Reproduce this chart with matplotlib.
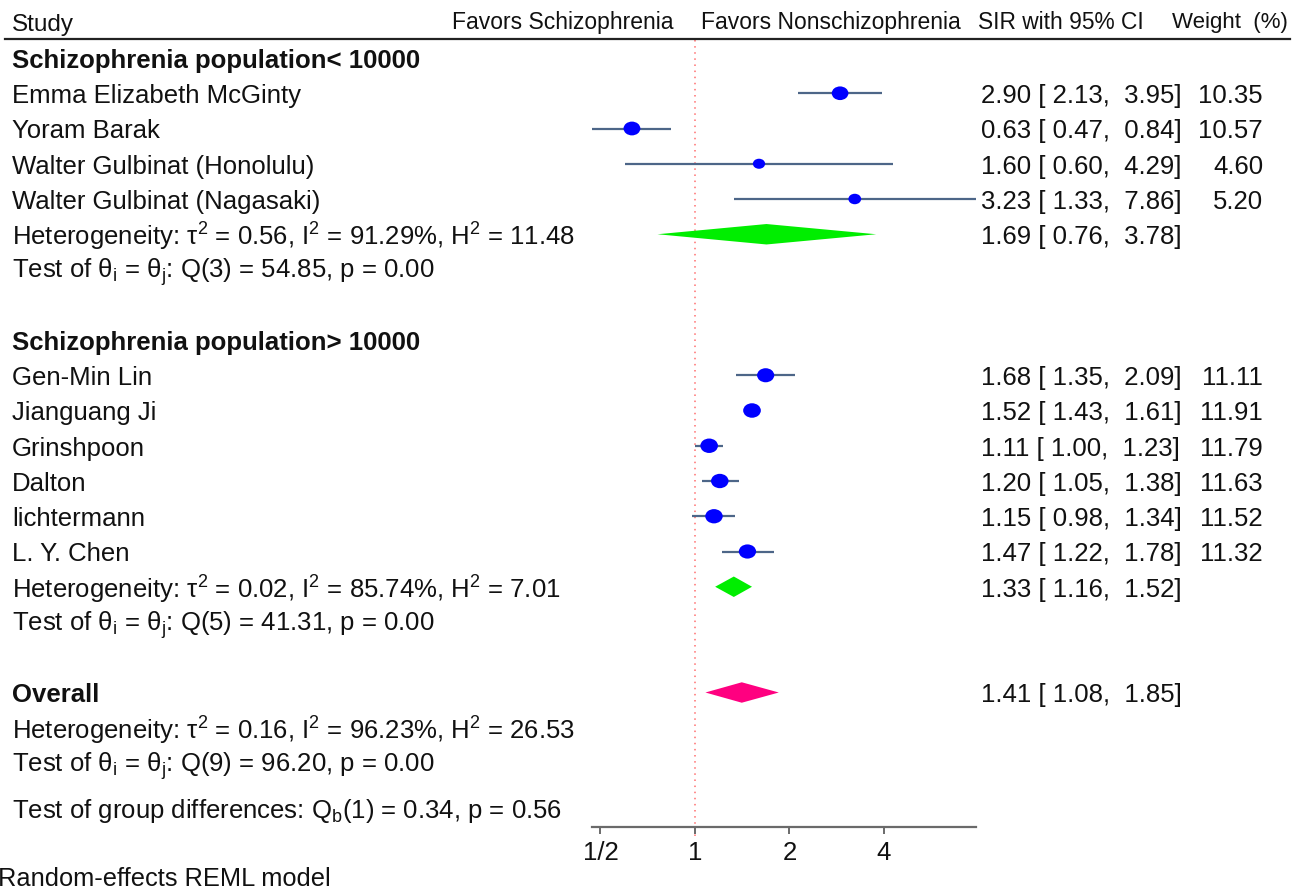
import numpy as np
import matplotlib
matplotlib.use("Agg")
from matplotlib import pyplot as plt
from matplotlib import transforms
from matplotlib.path import Path
from matplotlib.ticker import FixedLocator, NullLocator

plt.rcParams['font.family'] = ['Liberation Sans', 'DejaVu Sans']
plt.rcParams['mathtext.default'] = 'regular'

# ---- data ----
group1Studies = ["Emma Elizabeth McGinty", "Yoram Barak", "Walter Gulbinat (Honolulu)", "Walter Gulbinat (Nagasaki)"]
group1Sir = [2.90, 0.63, 1.60, 3.23]
group1Lower = [2.13, 0.47, 0.60, 1.33]
group1Upper = [3.95, 0.84, 4.29, 7.86]
group1Weight = [10.35, 10.57, 4.60, 5.20]
group1Pooled = (1.69, 0.76, 3.78)

group2Studies = ["Gen-Min Lin", "Jianguang Ji", "Grinshpoon", "Dalton", "lichtermann", "L. Y. Chen"]
group2Sir = [1.68, 1.52, 1.11, 1.20, 1.15, 1.47]
group2Lower = [1.35, 1.43, 1.00, 1.05, 0.98, 1.22]
group2Upper = [2.09, 1.61, 1.23, 1.38, 1.34, 1.78]
group2Weight = [11.11, 11.91, 11.79, 11.63, 11.52, 11.32]
group2Pooled = (1.33, 1.16, 1.52)

overallPooled = (1.41, 1.08, 1.85)

tickValues = [0.5, 1, 2, 4]
tickLabels = ["1/2", "1", "2", "4"]

group1Title = "Schizophrenia population< 10000"
group2Title = "Schizophrenia population> 10000"
group1Het = "Heterogeneity: τ$^2$ = 0.56, I$^2$ = 91.29%, H$^2$ = 11.48"
group1Test = "Test of θ$_i$ = θ$_j$: Q(3) = 54.85, p = 0.00"
group2Het = "Heterogeneity: τ$^2$ = 0.02, I$^2$ = 85.74%, H$^2$ = 7.01"
group2Test = "Test of θ$_i$ = θ$_j$: Q(5) = 41.31, p = 0.00"
overallHet = "Heterogeneity: τ$^2$ = 0.16, I$^2$ = 96.23%, H$^2$ = 26.53"
overallTest = "Test of θ$_i$ = θ$_j$: Q(9) = 96.20, p = 0.00"
groupDiff = "Test of group differences: Q$_b$(1) = 0.34, p = 0.56"

W, H = 1302, 892
fig = plt.figure(figsize=(W / 100, H / 100), dpi=100)
fig.patch.set_facecolor("white")

allLower = group1Lower + group2Lower
allUpper = group1Upper + group2Upper
ax = fig.add_axes([592 / W, 0, 384 / W, 1])
ax.set_xscale("log", base=2)
ax.set_xlim(min(allLower), max(allUpper))
# row i sits at pixel 58 + 35.25*(i-1)
ax.set_ylim(1 + (H - 58) / 35.25, 1 - 58 / 35.25)
ax.patch.set_alpha(0)

for side in ("top", "left", "right"):
	ax.spines[side].set_visible(False)
axisRow = 22.82
ax.spines["bottom"].set_position(("data", axisRow))
ax.spines["bottom"].set_bounds(min(allLower), max(allUpper))
ax.spines["bottom"].set_color("#6a6a6a")
ax.spines["bottom"].set_linewidth(1.6)
ax.xaxis.set_major_locator(FixedLocator(tickValues))
ax.xaxis.set_minor_locator(NullLocator())
ax.set_xticklabels(tickLabels)
ax.tick_params(axis="x", direction="out", length=5, width=1.4, color="#6a6a6a",
			   labelsize=18.5, pad=5, labelcolor="#111111")
ax.set_yticks([])

# line of no effect
ax.plot([1, 1], [0.5, 23.1], ls=(0, (1, 3)), color="#ff6f6f", lw=1.1, clip_on=False, zorder=1)

# elliptical marker, a bit wider than tall like the original
circ = Path.unit_circle()
ellipse = Path(circ.vertices * np.array([1.0, 0.82]), circ.codes)

ciColor = "#4d6688"
dotColor = "#0000ff"

def drawStudies(rows, sir, lower, upper, weight):
	ax.hlines(rows, lower, upper, color=ciColor, lw=1.6, zorder=2)
	ax.scatter(sir, rows, s=25 + np.array(weight) * 11.5, marker=ellipse, color=dotColor,
			   edgecolors="none", zorder=3)

def drawDiamond(row, pooled, color):
	es, lo, hi = pooled
	half = 0.29
	ax.fill([lo, es, hi, es], [row, row - half, row, row + half], color=color, lw=0, zorder=3)

rows1 = [2, 3, 4, 5]
rows2 = [10, 11, 12, 13, 14, 15]
drawStudies(rows1, group1Sir, group1Lower, group1Upper, group1Weight)
drawStudies(rows2, group2Sir, group2Lower, group2Upper, group2Weight)
drawDiamond(6, group1Pooled, "#00ee00")
drawDiamond(16, group2Pooled, "#00ee00")
drawDiamond(19, overallPooled, "#ff0080")

# text columns: x in figure fraction, y in row units
tr = transforms.blended_transform_factory(fig.transFigure, ax.transData)
fs = 18.5
txtColor = "#111111"
dy = 0.08

def leftText(row, s, bold=False, x=12, size=fs, va="center"):
	fig.text(x / W, row + dy, s, transform=tr, ha="left", va=va, fontsize=size,
			 fontweight="bold" if bold else "normal", color=txtColor)

def fmtCi(es, lo, hi):
	return f"{es:.2f} [{lo:5.2f}, {hi:5.2f}]"

def rightCols(row, es, lo, hi, w=None):
	fig.text(981 / W, row + dy, fmtCi(es, lo, hi), transform=tr, ha="left", va="center",
			 fontsize=fs, color=txtColor)
	if w is not None:
		fig.text(1263 / W, row + dy, f"{w:.2f}", transform=tr, ha="right", va="center",
				 fontsize=fs, color=txtColor)

# header
hs = 16.5
leftText(-0.03, "Study", size=17.5)
fig.text(673 / W, 0, "Favors Schizophrenia", transform=tr, ha="right", va="center", fontsize=hs, color=txtColor)
fig.text(701 / W, 0, "Favors Nonschizophrenia", transform=tr, ha="left", va="center", fontsize=hs, color=txtColor)
fig.text(978 / W, 0, "SIR with 95% CI", transform=tr, ha="left", va="center", fontsize=16.4, color=txtColor)
fig.text(1288 / W, 0, "Weight  (%)", transform=tr, ha="right", va="center", fontsize=16, color=txtColor)
ax.plot([5 / W, 1290 / W], [0.47, 0.47], transform=tr, color="#222222", lw=1.6, clip_on=False)

leftText(1, group1Title, bold=True)
for r, name, es, lo, hi, w in zip(rows1, group1Studies, group1Sir, group1Lower, group1Upper, group1Weight):
	leftText(r, name)
	rightCols(r, es, lo, hi, w)
leftText(6, group1Het)
rightCols(6, *group1Pooled)
leftText(7, group1Test)

leftText(9, group2Title, bold=True)
for r, name, es, lo, hi, w in zip(rows2, group2Studies, group2Sir, group2Lower, group2Upper, group2Weight):
	leftText(r, name)
	rightCols(r, es, lo, hi, w)
leftText(16, group2Het)
rightCols(16, *group2Pooled)
leftText(17, group2Test)

leftText(19, "Overall", bold=True)
rightCols(19, *overallPooled)
leftText(20, overallHet)
leftText(21, overallTest)
leftText(22.28, groupDiff)
leftText(24.55, "Random-effects REML model", x=-2, size=18.3, va="bottom")

fig.savefig("out.png", dpi=100)
